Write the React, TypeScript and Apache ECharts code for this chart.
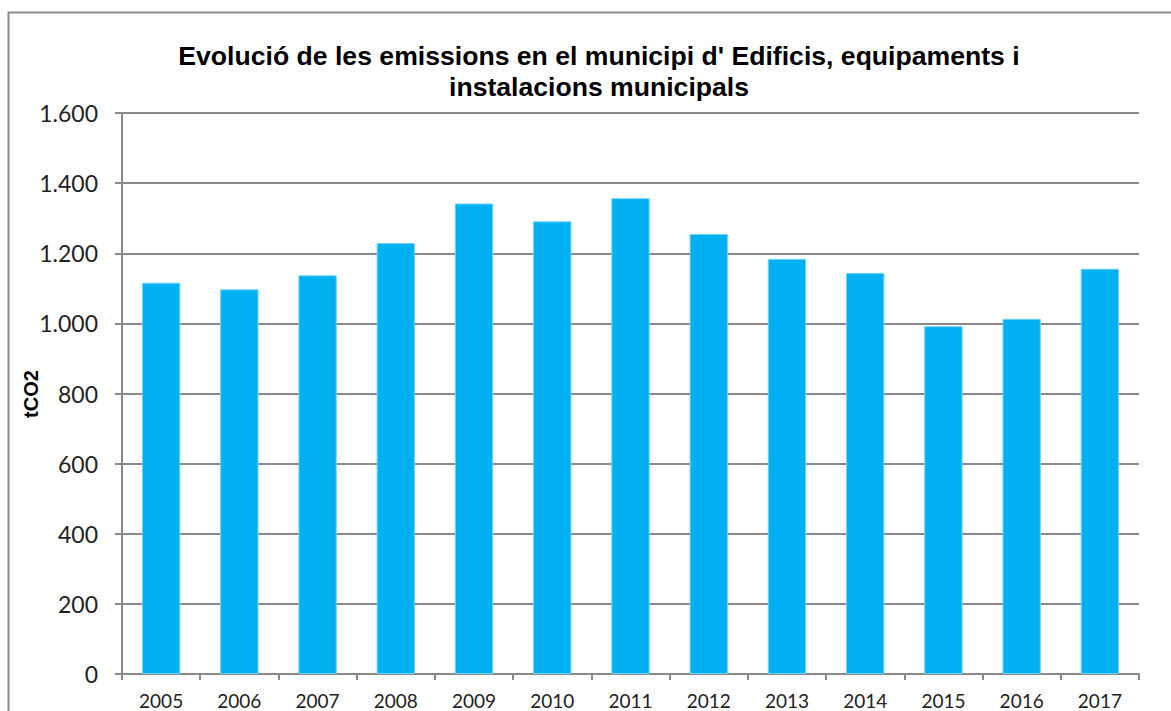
import React, { useEffect, useRef } from "react";
import * as echarts from "echarts";

const years = ["2005", "2006", "2007", "2008", "2009", "2010", "2011", "2012", "2013", "2014", "2015", "2016", "2017"];
const emissions = [1116, 1097, 1137, 1229, 1342, 1291, 1357, 1255, 1184, 1144, 992, 1013, 1156];
const yTicks = { min: 0, max: 1600, interval: 200 };
const yAxisTitle = "tCO2";

const fmt = (v: number) => String(v).replace(/\B(?=(\d{3})+(?!\d))/g, ".");

export default function App() {
  const ref = useRef<HTMLDivElement>(null);
  useEffect(() => {
    if (!ref.current) return;
    const chart = echarts.init(ref.current, null, { renderer: "svg" });
    chart.setOption({
      animation: false,
      backgroundColor: "#ffffff",
      title: {
        text: "Evolució de les emissions en el municipi d' Edificis, equipaments i\ninstalacions municipals",
        left: 594,
        textAlign: "center",
        top: 35,
        textStyle: {
          fontFamily: "Liberation Sans, Arial, sans-serif",
          fontWeight: "bold",
          fontSize: 26.6,
          lineHeight: 31,
          color: "#000",
        },
      },
      graphic: [
        {
          type: "rect",
          shape: { x: 8.5, y: 12.5, width: 1300, height: 900 },
          style: { fill: "none", stroke: "#8c8c8c", lineWidth: 2 },
          silent: true,
        },
        {
          type: "text",
          x: 31,
          y: 394,
          rotation: Math.PI / 2,
          style: {
            text: yAxisTitle,
            fontFamily: "Liberation Sans, Arial, sans-serif",
            fontWeight: "bold",
            fontSize: 20,
            fill: "#000",
            align: "center",
            verticalAlign: "middle",
          },
          silent: true,
        },
      ],
      grid: { left: 122, right: 32, top: 113, bottom: 37, containLabel: false },
      xAxis: {
        type: "category",
        data: years,
        axisLine: { lineStyle: { color: "#898989", width: 2 } },
        axisTick: { show: true, length: 6, lineStyle: { color: "#898989", width: 2 }, alignWithLabel: false },
        axisLabel: { color: "#222", fontFamily: "Lato, Open Sans, sans-serif", fontSize: 19, margin: 17 },
      },
      yAxis: {
        type: "value",
        min: yTicks.min,
        max: yTicks.max,
        interval: yTicks.interval,
        axisLine: { show: true, lineStyle: { color: "#898989", width: 2 } },
        axisTick: { show: true, length: 7, lineStyle: { color: "#898989", width: 2 } },
        splitLine: { show: true, lineStyle: { color: "#898989", width: 2 } },
        axisLabel: {
          color: "#222",
          fontFamily: "Lato, Open Sans, sans-serif",
          fontSize: 23,
          margin: 24,
          formatter: (v: number) => fmt(v),
        },
      },
      series: [
        {
          type: "bar",
          data: emissions,
          barWidth: "49%",
          itemStyle: { color: "#00B0F0", borderColor: "#6fd3f7", borderWidth: 1 },
        },
      ],
    });
    return () => chart.dispose();
  }, []);
  return <div ref={ref} style={{ position: "fixed", left: 0, top: 0, width: 1171, height: 711 }} />;
}
